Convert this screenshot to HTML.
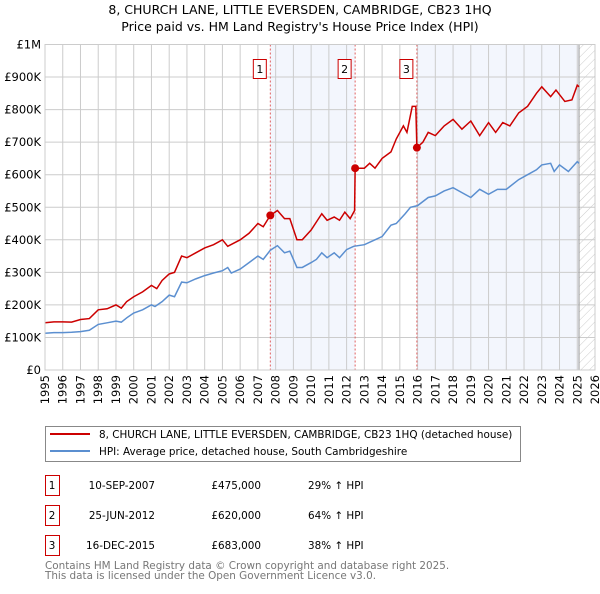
<!DOCTYPE html>
<html><head><meta charset="utf-8"><style>
body{margin:0;background:#fff;font-family:"DejaVu Sans","Liberation Sans",sans-serif;}
svg text{font-family:"DejaVu Sans","Liberation Sans",sans-serif;}
</style></head><body>
<svg id="c" width="600" height="590" xmlns="http://www.w3.org/2000/svg">
<defs><pattern id="hatch" width="6" height="6" patternUnits="userSpaceOnUse" patternTransform="rotate(45)"><line x1="0" y1="0" x2="0" y2="6" stroke="#ccc" stroke-width="1"/></pattern></defs>
<text x="300" y="14" font-size="12.5" text-anchor="middle">8, CHURCH LANE, LITTLE EVERSDEN, CAMBRIDGE, CB23 1HQ</text>
<text x="300" y="31" font-size="12.5" text-anchor="middle">Price paid vs. HM Land Registry's House Price Index (HPI)</text>
<g id="plot"></g>
<g>
<rect x="45.5" y="426.5" width="475" height="35" fill="#fff" stroke="#888"/>
<line x1="50" y1="434" x2="90" y2="434" stroke="#cc0000" stroke-width="2"/>
<text x="99" y="438" font-size="10.4">8, CHURCH LANE, LITTLE EVERSDEN, CAMBRIDGE, CB23 1HQ (detached house)</text>
<line x1="50" y1="451" x2="90" y2="451" stroke="#5b8fd0" stroke-width="2"/>
<text x="99" y="455" font-size="10.4">HPI: Average price, detached house, South Cambridgeshire</text>
</g>
<g id="table" font-size="10.4"></g>
<text x="45" y="569" font-size="10.4" fill="#777">Contains HM Land Registry data © Crown copyright and database right 2025.</text>
<text x="45" y="579" font-size="10.4" fill="#777">This data is licensed under the Open Government Licence v3.0.</text>
</svg>
<script>
const hpiYears=[1995,1995.5,1996,1996.5,1997,1997.5,1998,1998.5,1999,1999.3,1999.6,2000,2000.5,2001,2001.2,2001.6,2002,2002.3,2002.7,2003,2003.5,2004,2004.5,2005,2005.3,2005.5,2006,2006.5,2007,2007.3,2007.7,2008.1,2008.5,2008.8,2009.2,2009.5,2010,2010.3,2010.6,2010.9,2011.3,2011.6,2012,2012.4,2013,2013.6,2014,2014.5,2014.8,2015.3,2015.6,2016,2016.6,2017,2017.5,2018,2018.5,2019,2019.5,2020,2020.5,2021,2021.7,2022.2,2022.7,2023,2023.5,2023.7,2024,2024.5,2025,2025.1];
const hpiValues=[113,115,115,116,118,122,140,145,150,147,160,175,185,200,195,210,230,225,270,268,280,290,298,305,315,298,310,330,350,340,368,382,360,365,315,315,330,340,360,345,360,345,370,380,385,400,410,445,450,480,500,505,530,535,550,560,545,530,555,540,555,555,585,600,615,630,635,610,630,610,640,635];
const redYears=[1995,1995.5,1996,1996.5,1997,1997.5,1998,1998.5,1999,1999.3,1999.6,2000,2000.5,2001,2001.3,2001.6,2002,2002.3,2002.7,2003,2003.5,2004,2004.5,2005,2005.3,2006,2006.5,2007,2007.3,2007.7,2008.1,2008.5,2008.8,2009.2,2009.5,2010,2010.3,2010.6,2010.9,2011.3,2011.6,2011.9,2012.2,2012.45,2012.48,2013,2013.3,2013.6,2014,2014.5,2014.8,2015.2,2015.4,2015.7,2015.9,2015.96,2016.3,2016.6,2017,2017.5,2018,2018.5,2019,2019.5,2020,2020.4,2020.8,2021.2,2021.7,2022.2,2022.7,2023,2023.5,2023.8,2024.3,2024.7,2025,2025.1];
const redValues=[145,148,148,147,155,158,185,188,200,190,210,225,240,260,250,275,295,300,350,345,360,375,385,400,380,400,420,450,440,475,490,465,465,400,400,430,455,480,460,470,460,485,465,490,620,620,635,620,650,670,710,750,730,810,810,683,700,730,720,750,770,740,765,720,760,730,760,750,790,810,850,870,840,860,825,830,875,870];
const sales=[{n:"1",t:2007.7,v:475,date:"10-SEP-2007",price:"£475,000",pct:"29% ↑ HPI"},{n:"2",t:2012.48,v:620,date:"25-JUN-2012",price:"£620,000",pct:"64% ↑ HPI"},{n:"3",t:2015.96,v:683,date:"16-DEC-2015",price:"£683,000",pct:"38% ↑ HPI"}];
const yTicks=[0,100,200,300,400,500,600,700,800,900,1000];
const yTickLabels=["£0","£100K","£200K","£300K","£400K","£500K","£600K","£700K","£800K","£900K","£1M"];
const xTicks=[1995,1996,1997,1998,1999,2000,2001,2002,2003,2004,2005,2006,2007,2008,2009,2010,2011,2012,2013,2014,2015,2016,2017,2018,2019,2020,2021,2022,2023,2024,2025,2026];
const X0=45,X1=595,Y0=370,Y1=44.5;
const sx=t=>X0+(t-1995)/(2026-1995)*(X1-X0);
const sy=v=>Y0-v/1000*(Y0-Y1);
const NS="http://www.w3.org/2000/svg";
const plot=document.getElementById('plot');
function mk(tag,attrs,parent){const e=document.createElementNS(NS,tag);for(const k in attrs)e.setAttribute(k,attrs[k]);(parent||plot).appendChild(e);return e;}
let r=mk('rect',{x:sx(sales[0].t),y:Y1,width:sx(sales[1].t)-sx(sales[0].t),height:Y0-Y1,fill:'#eef2fc',opacity:0.7});


r=mk('rect',{x:sx(sales[2].t),y:Y1,width:sx(2025.1)-sx(sales[2].t),height:Y0-Y1,fill:'#eef2fc',opacity:0.7});


r=mk('rect',{x:sx(2025.1),y:Y1,width:X1-sx(2025.1),height:Y0-Y1,fill:'url(#hatch)'});


yTicks.forEach((v,i)=>{const l=mk('line',{x1:X0,x2:X1,y1:sy(v),y2:sy(v),stroke:'#ccc'});


const t=mk('text',{x:X0-4,y:sy(v)+4,'font-size':11.5,'text-anchor':'end'});t.textContent=yTickLabels[i];

});
xTicks.forEach(y=>{const l=mk('line',{x1:sx(y),x2:sx(y),y1:Y1,y2:Y0,stroke:'#ccc'});


const t=mk('text',{x:0,y:0,'font-size':11.5,'text-anchor':'end',transform:`translate(${sx(y)+4},${Y0+5}) rotate(-90)`});t.textContent=y;

});
let vl=mk('line',{x1:sx(2025.1),x2:sx(2025.1),y1:Y1,y2:Y0,stroke:'#999','stroke-width':1});


sales.forEach(s=>{const l=mk('line',{x1:sx(s.t),x2:sx(s.t),y1:Y1,y2:Y0,stroke:'#e06060','stroke-dasharray':'2,2'});


const b=mk('rect',{x:sx(s.t)-17,y:59.5,width:13,height:19,fill:'#fff',stroke:'#cc0000'});


const t=mk('text',{x:sx(s.t)-10.5,y:73,'font-size':11,'text-anchor':'middle'});t.textContent=s.n;

});
let p=mk('polyline',{points:hpiYears.map((t,i)=>sx(t)+','+sy(hpiValues[i])).join(' '),fill:'none',stroke:'#5b8fd0','stroke-width':1.5});


p=mk('polyline',{points:redYears.map((t,i)=>sx(t)+','+sy(redValues[i])).join(' '),fill:'none',stroke:'#cc0000','stroke-width':1.5});


sales.forEach(s=>{const c=mk('circle',{cx:sx(s.t),cy:sy(s.v),r:4,fill:'#cc0000'});

});
let fr=mk('rect',{x:X0,y:Y1,width:X1-X0,height:Y0-Y1,fill:'none',stroke:'#ccc'});


const tb=document.getElementById('table');
sales.forEach((s,i)=>{const y=475+i*30;
const b=mk('rect',{x:45.5,y:y+0.5,width:14,height:20,fill:'#fff',stroke:'#cc0000'},tb);


const cells=[[52,s.n,'middle'],[155,s.date,'end'],[261,s.price,'end'],[308,s.pct,'start']];
cells.forEach(c=>{const t=mk('text',{x:c[0],y:y+14,'text-anchor':c[2]},tb);t.textContent=c[1];

});});
</script>
</body></html>
